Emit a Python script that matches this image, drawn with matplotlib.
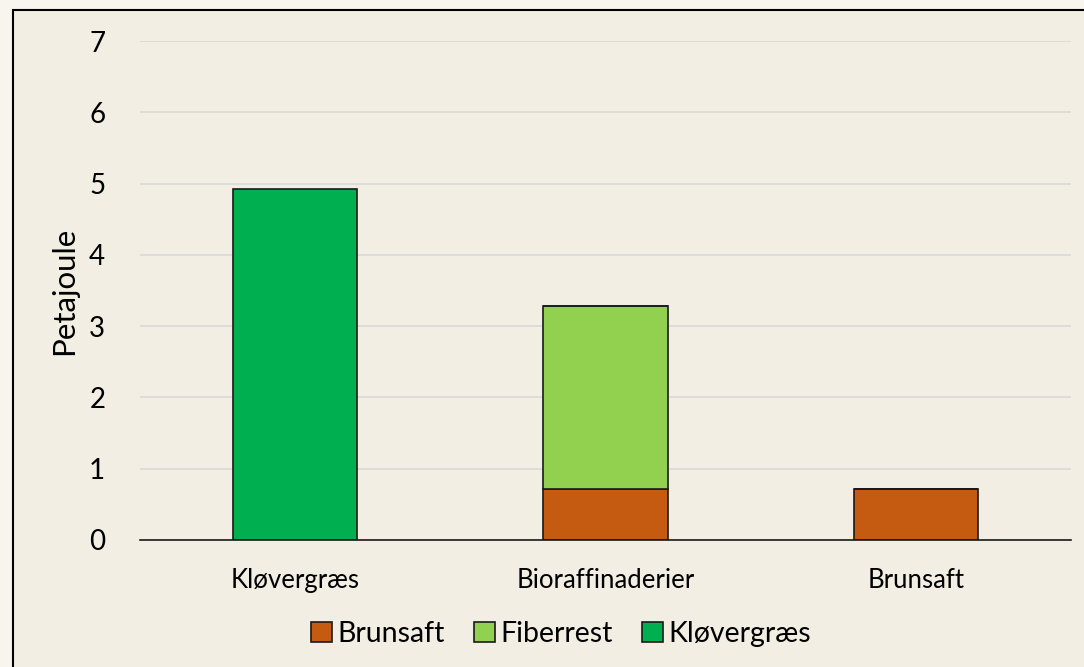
import matplotlib.pyplot as plt
from matplotlib.patches import Rectangle
import numpy as np

plt.rcParams["font.family"] = ["Lato", "DejaVu Sans"]

categories = ["Kløvergræs", "Bioraffinaderier", "Brunsaft"]
series_names = ["Brunsaft", "Fiberrest", "Kløvergræs"]
brunsaft = [0.0, 0.72, 0.72]
fiberrest = [0.0, 2.56, 0.0]
kloevergraes = [4.92, 0.0, 0.0]
yticks = [0, 1, 2, 3, 4, 5, 6, 7]

colors = {"Brunsaft": "#C55A11", "Fiberrest": "#92D050", "Kløvergræs": "#00B050"}
bg_outer = "#F8F5EE"
bg_inner = "#F2EEE3"

fig = plt.figure(figsize=(10.84, 6.67), dpi=100, facecolor=bg_outer)
W, H = 1084, 667

# chart frame, runs off the right and bottom edges
fig.patches.append(Rectangle((13 / W, -0.05), 1.1, 1 - 10 / H + 0.05,
                             transform=fig.transFigure, facecolor=bg_inner,
                             edgecolor="black", linewidth=1.5, zorder=-5))

ax = fig.add_axes([140 / W, 1 - 540 / H, (1071 - 140) / W, (540 - 41) / H])
ax.set_zorder(2)
ax.set_facecolor("none")

x = np.arange(len(categories))
width = 0.401
bottom = np.zeros(len(categories))
for name, vals in zip(series_names, [brunsaft, fiberrest, kloevergraes]):
    vals = np.array(vals)
    ax.bar(x, vals, width, bottom=bottom, color=colors[name],
           edgecolor="#1a1a1a", linewidth=1.2, label=name, zorder=3)
    bottom += vals

ax.set_xlim(-0.5, len(categories) - 0.5)
ax.set_ylim(0, 7)
ax.set_yticks(yticks)
ax.set_yticklabels([str(t) for t in yticks], fontsize=20)
ax.set_xticks(x)
ax.set_xticklabels(categories, fontsize=18.5)
ax.tick_params(axis="y", length=0, pad=25)
ax.tick_params(axis="x", length=0, pad=20)
ax.grid(axis="y", color="#D9D9D9", linewidth=1.2, zorder=0)
for side in ["top", "right", "left"]:
    ax.spines[side].set_visible(False)
ax.spines["bottom"].set_color("#1a1a1a")
ax.spines["bottom"].set_linewidth(1.2)
ax.spines["bottom"].set_zorder(4)

ax.set_ylabel("Petajoule", fontsize=22.5, labelpad=8)

handles, labels = ax.get_legend_handles_labels()
leg = fig.legend(handles, labels, loc="center", bbox_to_anchor=(561 / W, 1 - 634 / H),
                 ncol=3, frameon=False, fontsize=20.5, handlelength=0.75,
                 handleheight=0.75, handletextpad=0.2, columnspacing=1.0)
leg.set_zorder(3)

fig.savefig("out.png", dpi=100, facecolor=fig.get_facecolor())
